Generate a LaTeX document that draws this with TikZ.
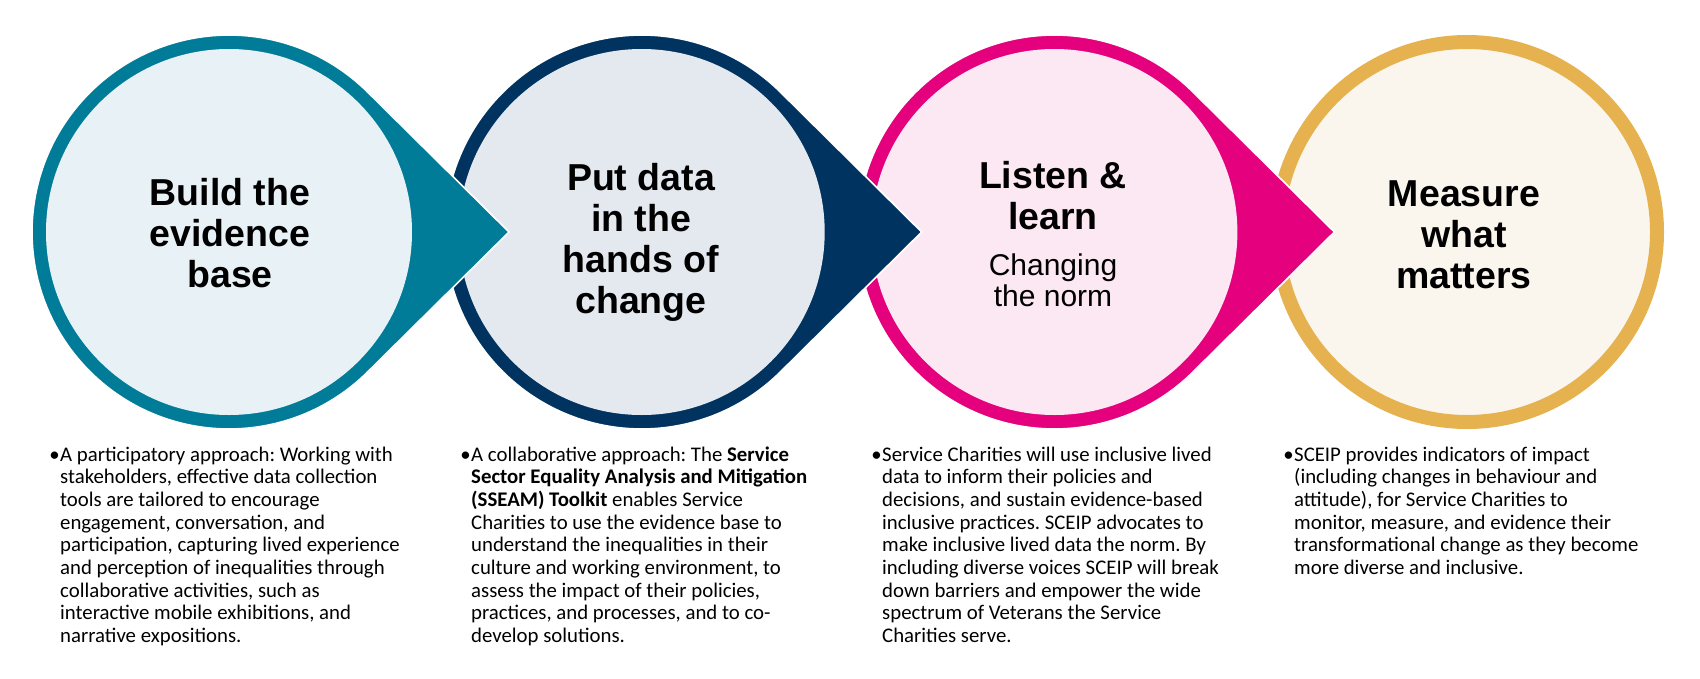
\documentclass[tikz,border=0pt]{standalone}
\usepackage{fontspec}
\setmainfont{Carlito}
\newfontfamily\headfont{Liberation Sans}
\usetikzlibrary{calc}
\frenchspacing
\definecolor{tealdark}{HTML}{007C98}
\definecolor{navydark}{HTML}{00335F}
\definecolor{pinkdark}{HTML}{E5007D}
\definecolor{golddark}{HTML}{E6B24F}
\definecolor{teallight}{HTML}{E8F1F5}
\definecolor{navylight}{HTML}{E4E9F0}
\definecolor{pinklight}{HTML}{FCE8F2}
\definecolor{goldlight}{HTML}{FAF6EE}
\newcommand\drawtear[3]{%
  \fill[#2, draw=white, line width=1.6pt]
    ($(#1)+(45.29:197pt)$) arc[start angle=45.29, end angle=314.71, radius=197pt]
    -- ($(#1)+(280pt,0pt)$) -- cycle;
  \fill[#3] (#1) circle[radius=183pt];
}
\begin{document}
\begin{tikzpicture}[x=1pt, y=-1pt,
  titletext/.style={font=\headfont\bfseries\fontsize{37.5}{41}\selectfont, align=center, anchor=base, inner sep=0pt},
  subtext/.style={font=\headfont\fontsize{30}{31}\selectfont, align=center, anchor=base, inner sep=0pt},
  bodytext/.style={font=\frenchspacing\fontsize{20.8}{22.7}\selectfont, align=left, anchor=base west, inner sep=0pt},
  bulletmark/.style={font=\fontsize{20.8}{22.7}\selectfont, anchor=base east, inner sep=0pt}]
\useasboundingbox (0,0) rectangle (1700,678);
\coordinate (c1) at (229,232);
\coordinate (c2) at (641.7,232);
\coordinate (c3) at (1054.4,232);
\coordinate (c4) at (1467,232);
% shapes, drawn right to left so each tip lies over the next circle
\draw[golddark, line width=14pt, fill=goldlight] (c4) circle[radius=190pt];
\drawtear{c3}{pinkdark}{pinklight}
\drawtear{c2}{navydark}{navylight}
\drawtear{c1}{tealdark}{teallight}
% titles (anchored at the baseline of their last line)
\node[titletext] (t1) at (230,287) {Build the\\evidence\\base};
\node[titletext] (t2) at (641,313) {Put data\\in the\\hands of\\change};
\node[titletext] (t3) at (1053,229) {Listen \&\\learn};
\node[subtext] (s3) at (1053,306) {Changing\\the norm};
\node[titletext] (t4) at (1464,288) {Measure\\what\\matters};
% body texts (anchored at the baseline of their last line)
\node[bulletmark] (b1) at (60,461) {•};
\node[bodytext] (d1) at (60,642.6) {A participatory approach: Working with\\stakeholders, effective data collection\\tools are tailored to encourage\\engagement, conversation, and\\participation, capturing lived experience\\and perception of inequalities through\\collaborative activities, such as\\interactive mobile exhibitions, and\\narrative expositions.};
\node[bulletmark] (b2) at (471,461) {•};
\node[bodytext] (d2) at (471,642.6) {A collaborative approach: The \textbf{Service}\\\textbf{Sector Equality Analysis and Mitigation}\\\textbf{(SSEAM) Toolkit} enables Service\\Charities to use the evidence base to\\understand the inequalities in their\\culture and working environment, to\\assess the impact of their policies,\\practices, and processes, and to co-\\develop solutions.};
\node[bulletmark] (b3) at (882,461) {•};
\node[bodytext] (d3) at (882,642.6) {Service Charities will use inclusive lived\\data to inform their policies and\\decisions, and sustain evidence-based\\inclusive practices. SCEIP advocates to\\make inclusive lived data the norm. By\\including diverse voices SCEIP will break\\down barriers and empower the wide\\spectrum of Veterans the Service\\Charities serve.};
\node[bulletmark] (b4) at (1294,461) {•};
\node[bodytext] (d4) at (1294,574.5) {SCEIP provides indicators of impact\\(including changes in behaviour and\\attitude), for Service Charities to\\monitor, measure, and evidence their\\transformational change as they become\\more diverse and inclusive.};
\end{tikzpicture}
\end{document}
